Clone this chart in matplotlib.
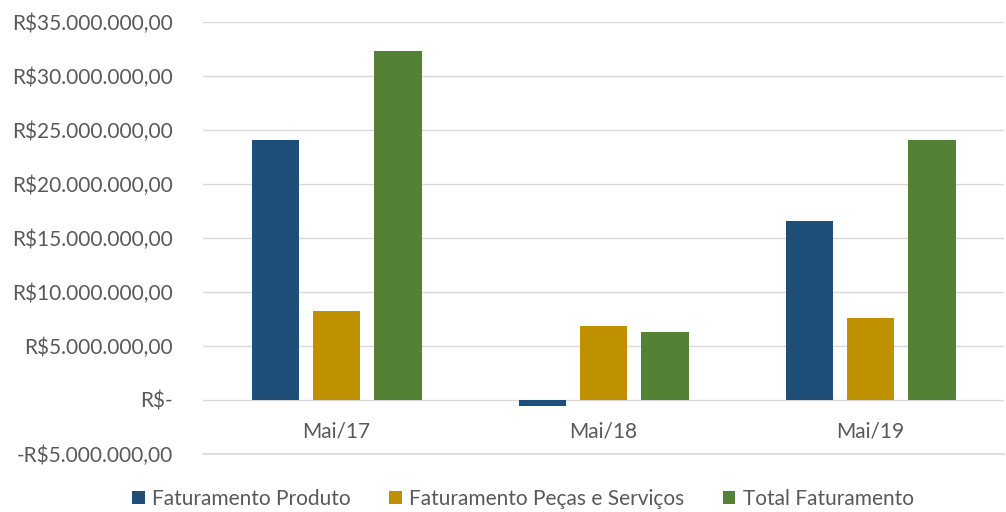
import numpy as np
import matplotlib.pyplot as plt
import matplotlib
from matplotlib.ticker import FuncFormatter

matplotlib.rcParams['font.family'] = ['Lato', 'DejaVu Sans']

categorias = ['Mai/17', 'Mai/18', 'Mai/19']
series = ['Faturamento Produto', 'Faturamento Peças e Serviços', 'Total Faturamento']
produto = [24070000, -560000, 16570000]
pecas_servicos = [8240000, 6850000, 7600000]
total = [32300000, 6300000, 24070000]
cores = ['#1F4E79', '#BF9000', '#538135']

texto = '#595959'
fs = 15


def formata_real(v, pos):
    if abs(v) < 1:
        return 'R$-'
    s = '{:,.2f}'.format(abs(v)).replace(',', 'X').replace('.', ',').replace('X', '.')
    return ('-' if v < 0 else '') + 'R$' + s


fig = plt.figure(figsize=(10.06, 5.12), dpi=100)
ax = fig.add_axes([0.202, 0.113, 0.796, 0.844])

x = np.arange(len(categorias))
larg = 0.177
passo = 0.23
for i, (valores, nome) in enumerate(zip([produto, pecas_servicos, total], series)):
    ax.bar(x + (i - 1) * passo, valores, width=larg, color=cores[i], label=nome, zorder=3)

ax.set_xlim(-0.5, 2.5)
ax.set_ylim(-5030000, 35030000)
ax.set_yticks(np.arange(-5000000, 35000001, 5000000))
ax.yaxis.set_major_formatter(FuncFormatter(formata_real))
ax.grid(axis='y', color='#D9D9D9', linewidth=1, zorder=0)
ax.axhline(-5000000, color='#D9D9D9', linewidth=1.2, zorder=0, clip_on=False)

ax.set_xticks([])
ax.tick_params(axis='both', length=0, labelsize=fs, labelcolor=texto, pad=22)
# rótulos das categorias logo abaixo do zero
for xi, c in zip(x, categorias):
    ax.text(xi, -2000000, c, ha='center', va='top', fontsize=fs, color=texto)

for s in ax.spines.values():
    s.set_visible(False)

leg = fig.legend(loc='lower center', ncol=3, frameon=False, fontsize=fs,
                 bbox_to_anchor=(0.52, -0.03), handlelength=0.6, handleheight=0.6,
                 columnspacing=1.85, handletextpad=0.35)
for t in leg.get_texts():
    t.set_color(texto)

fig.savefig('out.png', dpi=100)
